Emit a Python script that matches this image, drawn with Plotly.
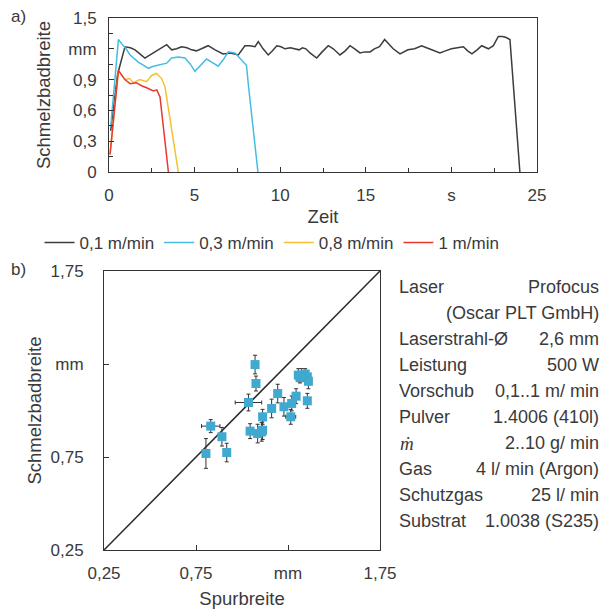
import plotly.graph_objects as go

# ---------- data: panel a) melt pool width over time ----------
t_01 = [0.1, 0.5, 0.93, 1.25, 1.52, 1.8, 2.1, 2.4, 2.7, 3.0, 3.37, 3.66, 3.95, 4.24, 4.55, 4.83,
        5.1, 5.4, 5.79, 6.2, 6.45, 6.66, 7.1, 7.55, 7.94, 8.24, 8.53, 8.72, 9.0, 9.3, 9.55, 9.8,
        10.05, 10.28, 10.6, 10.86, 11.1, 11.3, 11.5, 11.74, 12.13, 12.45, 12.81, 13.1, 13.49,
        13.8, 14.08, 14.35, 14.66, 14.95, 15.25, 15.5, 15.8, 16.1, 16.3, 16.6, 17.0, 17.46,
        17.85, 18.26, 18.55, 18.84, 19.1, 19.33, 19.65, 20.0, 20.35, 20.7, 20.95, 21.2, 21.5,
        21.77, 22.16, 22.45, 22.74, 23.0, 23.2, 23.42, 24.0]
w_01 = [0.40, 0.95, 1.22, 1.21, 1.19, 1.15, 1.11, 1.14, 1.17, 1.20, 1.24, 1.19, 1.20, 1.22, 1.21, 1.19,
        1.18, 1.20, 1.23, 1.19, 1.17, 1.15, 1.16, 1.14, 1.23, 1.23, 1.22, 1.27, 1.20, 1.14, 1.18, 1.23,
        1.22, 1.20, 1.21, 1.20, 1.19, 1.21, 1.20, 1.16, 1.11, 1.17, 1.23, 1.20, 1.14,
        1.18, 1.23, 1.20, 1.16, 1.17, 1.17, 1.20, 1.22, 1.29, 1.25, 1.20, 1.15, 1.19,
        1.20, 1.23, 1.21, 1.19, 1.17, 1.16, 1.18, 1.20, 1.21, 1.22, 1.18, 1.15, 1.19,
        1.23, 1.20, 1.23, 1.32, 1.32, 1.31, 1.29, 0.0]

t_03 = [0.1, 0.55, 0.74, 1.0, 1.23, 1.71, 2.0, 2.3, 2.6, 2.88, 3.37, 3.66, 4.05, 4.44, 4.75, 5.02,
        5.35, 5.7, 6.0, 6.38, 6.7, 6.97, 7.36, 7.84, 8.03, 8.14, 8.7]
w_03 = [0.44, 1.29, 1.25, 1.20, 1.14, 1.07, 1.04, 1.01, 1.03, 1.04, 1.06, 1.11, 1.12, 1.11, 1.05, 0.98,
        1.04, 1.10, 1.07, 1.03, 1.10, 1.17, 1.16, 1.07, 1.04, 0.85, 0.0]

t_08 = [0.06, 0.55, 0.93, 1.2, 1.42, 1.8, 2.2, 2.49, 2.78, 3.07, 3.27, 4.05]
w_08 = [0.17, 0.99, 0.90, 0.91, 0.87, 0.90, 0.88, 0.94, 0.96, 0.91, 0.83, 0.0]

t_1 = [0.06, 0.55, 0.93, 1.23, 1.6, 1.9, 2.2, 2.59, 2.79, 2.98, 3.47]
w_1 = [0.17, 0.99, 0.90, 0.86, 0.87, 0.84, 0.82, 0.79, 0.80, 0.73, 0.0]

series_names = ["0,1 m/min", "0,3 m/min", "0,8 m/min", "1 m/min"]

# ---------- data: panel b) track width vs melt pool width ----------
spur = [0.804, 0.830, 0.891, 0.917, 1.035, 1.044, 1.071, 1.076, 1.085, 1.107, 1.112, 1.112, 1.161,
        1.194, 1.228, 1.265, 1.270, 1.294, 1.306, 1.324, 1.343, 1.355, 1.361, 1.355, 1.315]
schmelz = [0.769, 0.916, 0.859, 0.774, 1.043, 0.889, 1.247, 1.145, 0.876, 0.885, 0.966, 0.894, 1.011,
           1.091, 1.020, 0.966, 1.038, 1.077, 1.190, 1.190, 1.195, 1.181, 1.157, 1.052, 1.178]
spur_err = [0.01, 0.05, 0.01, 0.01, 0.072, 0.012, 0.01, 0.01, 0.012, 0.01, 0.01, 0.01, 0.01,
            0.01, 0.01, 0.027, 0.01, 0.01, 0.012, 0.012, 0.012, 0.01, 0.01, 0.01, 0.01]
schmelz_err = [0.08, 0.035, 0.05, 0.05, 0.045, 0.04, 0.05, 0.04, 0.05, 0.05, 0.04, 0.05, 0.05,
               0.05, 0.05, 0.04, 0.04, 0.04, 0.035, 0.035, 0.03, 0.035, 0.04, 0.04, 0.03]
diag = [0.25, 1.75]

a_xticks = [0, 5, 10, 15, 20, 25]
a_xlabels = ["0", "5", "10", "15", "s", "25"]
a_yticks = [0, 0.3, 0.6, 0.9, 1.2, 1.5]
a_ylabels = ["0", "0,3", "0,6", "0,9", "mm", "1,5"]
b_ticks = [0.25, 0.75, 1.25, 1.75]
b_labels = ["0,25", "0,75", "mm", "1,75"]

params_left = ["Laser", "", "Laserstrahl-Ø", "Leistung", "Vorschub", "Pulver", "ṁ", "Gas",
               "Schutzgas", "Substrat"]
params_right = ["Profocus", "(Oscar PLT GmbH)", "2,6 mm", "500 W", "0,1..1 m/ min",
                "1.4006 (410l)", "2..10 g/ min", "4 l/ min (Argon)", "25 l/ min", "1.0038 (S235)"]

# ---------- figure ----------
W, H = 605, 609
FONT = "Arial, Liberation Sans, sans-serif"
TXT = "#3a3a3a"
AX = "#333333"
colors = ["#3c3c3c", "#45bde3", "#f3c232", "#e8392f"]
TICK = 17
TITLE = 18.5

fig = go.Figure()
for t, w, name, c in zip([t_01, t_03, t_08, t_1], [w_01, w_03, w_08, w_1], series_names, colors):
    fig.add_trace(go.Scatter(x=t, y=w, mode="lines", name=name,
                             line=dict(color=c, width=1.5), xaxis="x", yaxis="y"))

fig.add_trace(go.Scatter(x=diag, y=diag, mode="lines", showlegend=False,
                         line=dict(color="#2a2a2a", width=1.5), xaxis="x2", yaxis="y2"))
fig.add_trace(go.Scatter(x=spur, y=schmelz, mode="markers", showlegend=False,
                         marker=dict(symbol="square", size=9, color="#3fa9cf"),
                         error_x=dict(type="data", array=spur_err, color="#333333", thickness=1, width=2),
                         error_y=dict(type="data", array=schmelz_err, color="#333333", thickness=1, width=2),
                         xaxis="x2", yaxis="y2"))

def px_x(p):
    return p / W

def px_y(p):
    return 1 - p / H

common = dict(showgrid=False, zeroline=False, showline=True, linecolor=AX, linewidth=1,
              mirror=True, ticks="inside", tickcolor=AX, automargin=False,
              tickfont=dict(size=TICK, color=TXT, family=FONT))

fig.update_layout(
    width=W, height=H, margin=dict(l=0, r=0, t=0, b=0, autoexpand=False),
    paper_bgcolor="white", plot_bgcolor="white",
    font=dict(family=FONT, color=TXT, size=17),
    xaxis=dict(domain=[px_x(109), px_x(537)], range=[0, 25], anchor="y",
               tickvals=a_xticks, ticktext=a_xlabels, ticklen=5, ticklabelstandoff=8,
               minor=dict(dtick=2.5, tick0=0, ticks="inside", ticklen=4, tickcolor=AX),
               title=dict(text="Zeit", standoff=5, font=dict(size=TITLE, color=TXT)), **common),
    yaxis=dict(domain=[px_y(172), px_y(18)], range=[0, 1.5], anchor="x",
               tickvals=a_yticks, ticktext=a_ylabels, ticklen=5, ticklabelstandoff=8,
               minor=dict(dtick=0.15, tick0=0, ticks="inside", ticklen=4, tickcolor=AX),
               title=dict(text="Schmelzbadbreite", standoff=12, font=dict(size=TITLE, color=TXT)), **common),
    xaxis2=dict(domain=[px_x(104), px_x(380)], range=[0.25, 1.75], anchor="y2",
                tickvals=b_ticks, ticktext=b_labels, ticklen=5, ticklabelstandoff=8,
                title=dict(text="Spurbreite", standoff=10, font=dict(size=TITLE, color=TXT)), **common),
    yaxis2=dict(domain=[px_y(550), px_y(271)], range=[0.25, 1.75], anchor="x2",
                tickvals=b_ticks, ticktext=b_labels, ticklen=5, ticklabelstandoff=16,
                title=dict(text="Schmelzbadbreite", standoff=4, font=dict(size=TITLE, color=TXT)), **common),
    legend=dict(orientation="h", x=px_x(272), xanchor="center", y=px_y(243), yanchor="middle",
                font=dict(size=17, color=TXT), itemwidth=30, tracegroupgap=0,
                bgcolor="rgba(0,0,0,0)"),
)

annotations = [
    dict(text="a)", x=px_x(9), y=px_y(17), xanchor="left", yanchor="middle"),
    dict(text="b)", x=px_x(9), y=px_y(269), xanchor="left", yanchor="middle"),
]
for i, (lft, rgt) in enumerate(zip(params_left, params_right)):
    yy = px_y(287 + 26 * i)
    if lft:
        if lft == "ṁ":
            annotations.append(dict(text="<i>ṁ</i>", x=px_x(398), y=yy, xanchor="left", yanchor="middle",
                                    font=dict(size=19, family="Liberation Serif, serif", color=TXT)))
        else:
            annotations.append(dict(text=lft, x=px_x(397), y=yy, xanchor="left", yanchor="middle",
                                    font=dict(size=18, color=TXT)))
    annotations.append(dict(text=rgt, x=px_x(601), y=yy, xanchor="right", yanchor="middle",
                            font=dict(size=18, color=TXT)))
for a in annotations:
    a.update(xref="paper", yref="paper", showarrow=False)
    a.setdefault("font", dict(size=17, color=TXT))
fig.update_layout(annotations=annotations)

fig.write_html("out.html", config={"displayModeBar": False},
               post_script="document.body.style.margin='0';document.body.style.overflow='hidden';")
